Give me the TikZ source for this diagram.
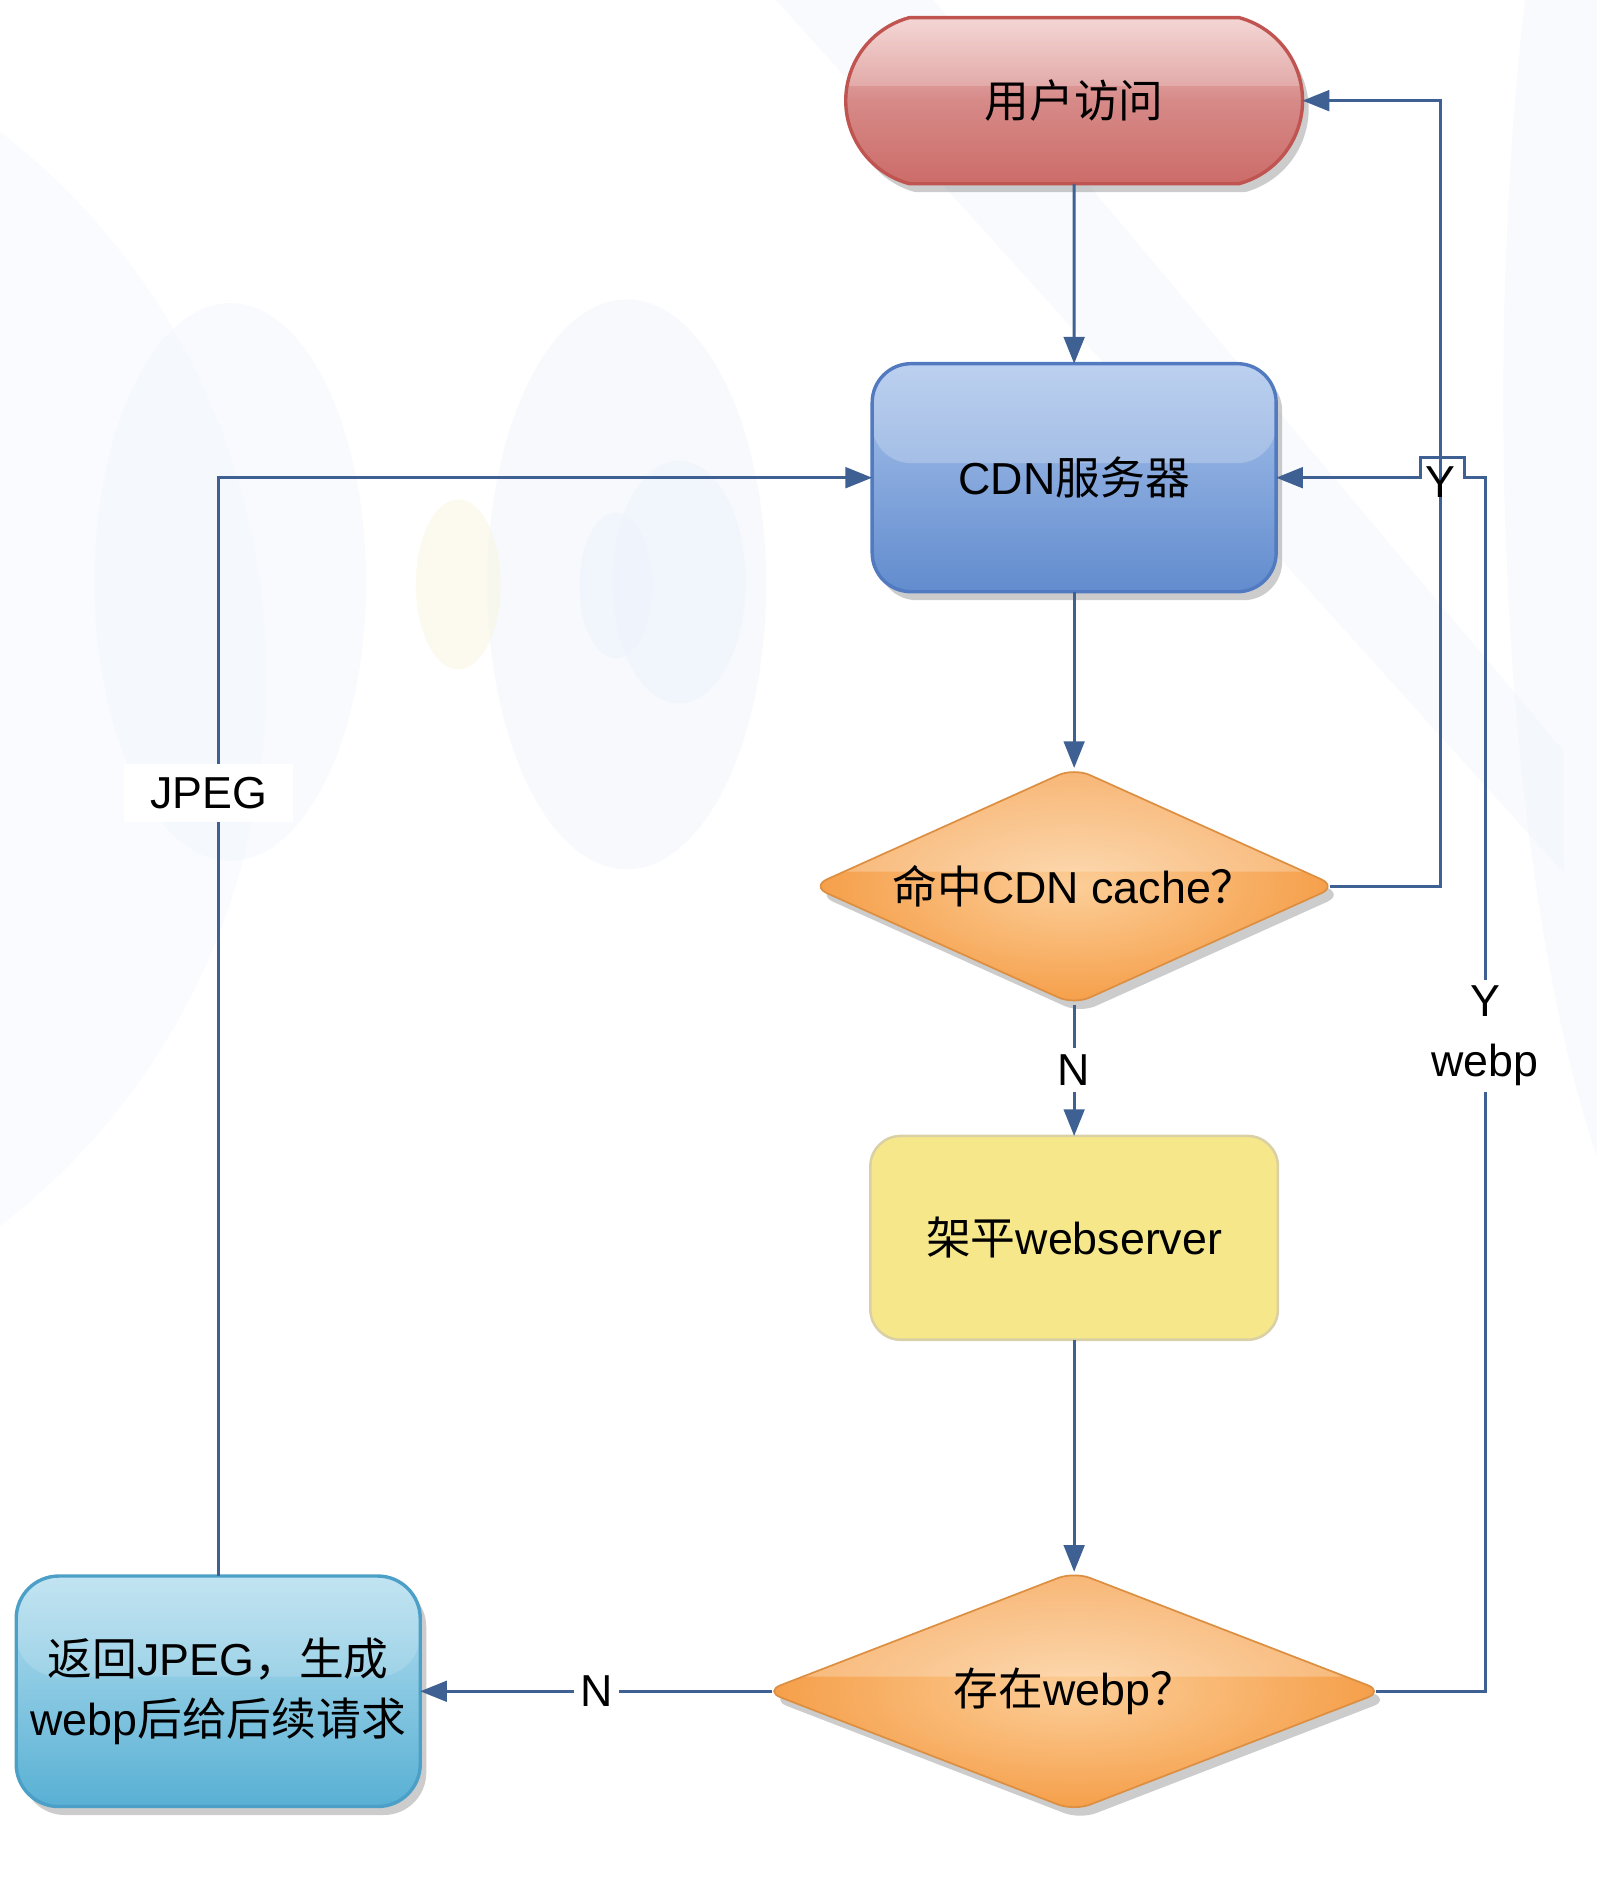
\documentclass[tikz,border=0pt]{standalone}
\usepackage{fontspec}
\setmainfont{Liberation Sans}
\newfontfamily\cjk{Noto Sans CJK SC}
\usetikzlibrary{arrows.meta,shapes.geometric,shapes.misc,shadows}
\definecolor{linec}{RGB}{62,96,146}
\definecolor{bgA}{RGB}{238,243,252}
\definecolor{bgY}{RGB}{250,246,228}
\definecolor{redB}{RGB}{192,84,80}
\definecolor{redT}{RGB}{242,205,203}
\definecolor{redM}{RGB}{214,138,136}
\definecolor{redD}{RGB}{204,108,105}
\definecolor{bluB}{RGB}{82,122,192}
\definecolor{bluT}{RGB}{170,196,236}
\definecolor{bluD}{RGB}{98,140,206}
\definecolor{oraO}{RGB}{245,158,72}
\definecolor{oraI}{RGB}{252,206,152}
\definecolor{yelF}{RGB}{246,232,138}
\definecolor{yelB}{RGB}{218,208,165}
\definecolor{cyaB}{RGB}{76,160,200}
\definecolor{cyaT}{RGB}{184,224,240}
\definecolor{cyaD}{RGB}{88,176,212}
\tikzset{
  shad/.style={drop shadow={shadow xshift=0.05cm, shadow yshift=-0.07cm, opacity=0.2, fill=black}},
  gloss/.style={path picture={\fill[white,opacity=#1] (path picture bounding box.north west) rectangle ([yshift=0.12cm]path picture bounding box.east);}},
  gloss/.default=0.25,
  stadium/.style={rounded rectangle, rounded rectangle arc length=150, minimum width=4.0cm, minimum height=1.37cm, outer sep=0pt,
    draw=redB, line width=0.8pt, top color=redT, bottom color=redD, middle color=redM, shad, gloss=0.2},
  cdnbox/.style={rectangle, rounded corners=0.32cm, minimum width=3.33cm, minimum height=1.88cm, outer sep=0pt,
    draw=bluB, line width=0.8pt, top color=bluT, bottom color=bluD, shad, gloss=0.22},
  dia/.style={diamond, aspect=2.2, inner sep=0pt, outer sep=0pt, rounded corners=4pt, draw=oraO!90!black, line width=0.4pt,
    inner color=oraI, outer color=oraO, shad, gloss=0.25},
  ybox/.style={rectangle, rounded corners=0.25cm, minimum width=3.36cm, minimum height=1.68cm, outer sep=0pt,
    draw=yelB, line width=0.6pt, fill=yelF},
  cbox/.style={rectangle, rounded corners=0.35cm, minimum width=3.33cm, minimum height=1.9cm, align=center, outer sep=0pt,
    draw=cyaB, line width=0.8pt, top color=cyaT, bottom color=cyaD, shad, gloss=0.15},
  conn/.style={draw=linec, line width=0.7pt, -{Triangle[length=0.22cm,width=0.17cm]}},
  lbl/.style={fill=white, inner sep=1.5pt, text=black},
  plainlbl/.style={inner sep=0pt, text=black}
}
\begin{document}
\begin{tikzpicture}[x=0.01cm, y=-0.01cm, font=\fontsize{10.5}{14}\selectfont]
\fill[white] (0,0) rectangle (1317,1568);
\useasboundingbox (0,0) rectangle (1317,1568);
% faint background decorations
\begin{scope}
\clip (0,0) rectangle (1317,1568);
\fill[bgA, opacity=0.3] (-320,560) ellipse [x radius=540, y radius=560];
\fill[bgA, opacity=0.35] (640,0) -- (770,0) -- (1290,620) -- (1290,720) -- cycle;
\fill[bgA, opacity=0.4] (1420,330) ellipse [x radius=180, y radius=760];
\fill[bgA, opacity=0.35] (190,480) ellipse [x radius=112, y radius=230];
\fill[bgA, opacity=0.45] (517,482) ellipse [x radius=115, y radius=235];
\fill[bgA, opacity=0.6] (560,480) ellipse [x radius=55, y radius=100];
\fill[bgA, opacity=0.6] (508,483) ellipse [x radius=30, y radius=60];
\fill[bgY, opacity=0.6] (378,482) ellipse [x radius=35, y radius=70];
\end{scope}
% nodes
\node[stadium] (user) at (886,83) {{\cjk 用户访问}};
\node[cdnbox] (cdn) at (886,394) {CDN{\cjk 服务器}};
\node[dia, minimum width=4.33cm, minimum height=1.95cm] (d1) at (886,731) {{\cjk 命中}CDN cache{\cjk ？}};
\node[ybox] (web) at (886,1021) {{\cjk 架平}webserver};
\node[dia, minimum width=5.1cm, minimum height=1.97cm] (d2) at (886,1395) {{\cjk 存在}webp{\cjk ？}};
\node[cbox] (ret) at (180,1395) {{\cjk 返回}JPEG{\cjk ，生成}\\webp{\cjk 后给后续请求}};
% connectors
\draw[conn] (user) -- (cdn);
\draw[conn] (cdn) -- (d1);
\draw[conn] (d1) -- node[lbl]{N} (web);
\draw[conn] (web) -- (d2);
\draw[conn] ([xshift=0.06cm]d2.west) -- node[lbl]{N} (ret);
\draw[conn] (ret.north) -- (180,394) node[pos=0.713, fill=white, inner xsep=6pt, inner ysep=3pt, text=black, xshift=-0.08cm]{JPEG} -- (cdn.west);
\draw[conn] ([xshift=-0.06cm]d2.east) -- (1225,1395) -- node[pos=0.54, lbl, align=center]{Y\\webp} (1225,394) -- (1208,394) -- (1208,377) -- (1172,377) -- (1172,394) -- (cdn.east);
\draw[conn] ([xshift=-0.06cm]d1.east) -- (1188,731) -- node[pos=0.515, plainlbl]{Y} (1188,83) -- (user.east);
\end{tikzpicture}
\end{document}
